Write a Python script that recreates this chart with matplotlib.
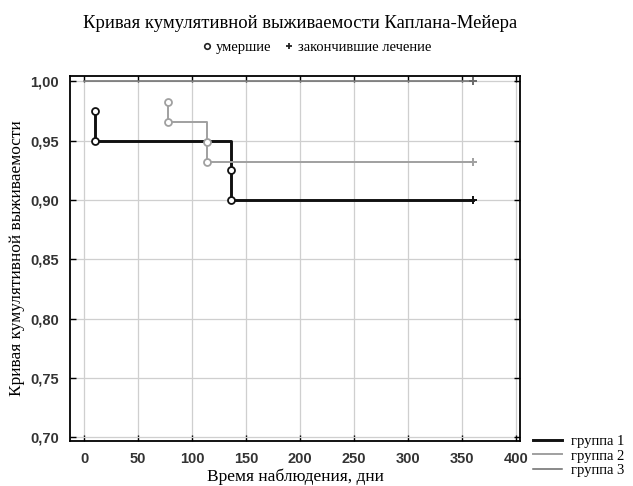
import numpy as np
import matplotlib.pyplot as plt
from matplotlib.lines import Line2D
from matplotlib.ticker import FuncFormatter, MultipleLocator

# data
g1_time = [10, 10, 136, 136]
g1_surv = [0.975, 0.95, 0.925, 0.90]
g2_time = [78, 78, 114, 114]
g2_surv = [0.983, 0.966, 0.949, 0.932]
g3_time = [0]
g3_surv = [1.0]
end_time = 360
groups = ["группа 1", "группа 2", "группа 3"]

colors = ["#111111", "#a0a0a0", "#6a6a6a"]
widths = [2.1, 1.4, 1.1]

serif = ["Liberation Serif", "DejaVu Serif"]
sans = ["Liberation Sans", "DejaVu Sans"]

fig = plt.figure(figsize=(6.33, 4.86), dpi=100)
ax = fig.add_axes([70 / 633, 1 - 441 / 486, 450 / 633, 365 / 486])

series = [(g1_time, g1_surv), (g2_time, g2_surv), (g3_time, g3_surv)]
for (t, s), c, w in zip(series, colors, widths):
    x = list(t) + [end_time]
    y = list(s) + [s[-1]]
    ax.plot(x, y, drawstyle="steps-post", color=c, lw=w, zorder=3)
    if len(t) > 1:
        ax.plot(t, s, "o", ms=5, mfc="white", mec=c, mew=1.3, zorder=4)
    ax.plot([end_time], [s[-1]], "+", ms=6, color=c, mew=1.4, zorder=4)

ax.set_xlim(-13, 404)
ax.set_ylim(0.697, 1.0045)
ax.xaxis.set_major_locator(MultipleLocator(50))
ax.yaxis.set_major_locator(MultipleLocator(0.05))
ax.yaxis.set_major_formatter(FuncFormatter(lambda v, p: f"{v:.2f}".replace(".", ",")))
ax.grid(True, color="#cfcfcf", lw=0.9)
ax.set_axisbelow(True)
ax.tick_params(direction="in", top=True, right=True, length=4, width=1,
               labelsize=10.5, pad=8)
for lab in ax.get_xticklabels() + ax.get_yticklabels():
    lab.set_family(sans)
    lab.set_weight("bold")
    lab.set_color("#333333")
for sp in ax.spines.values():
    sp.set_linewidth(1.3)

ax.set_xlabel("Время наблюдения, дни", family=serif, fontsize=12.5, labelpad=2)
ax.set_ylabel("Кривая кумулятивной выживаемости", family=serif, fontsize=12.5, labelpad=4)

fig.text(0.474, 1 - 23 / 486, "Кривая кумулятивной выживаемости Каплана-Мейера",
         family=serif, fontsize=13.4, ha="center", va="center")

top_handles = [Line2D([], [], ls="", marker="o", ms=4, mfc="white", mec="#222222", mew=1.2),
               Line2D([], [], ls="", marker="+", ms=5, color="#222222", mew=1.3)]
fig.legend(top_handles, ["умершие", "закончившие лечение"], loc="center",
           bbox_to_anchor=(0.497, 1 - 47 / 486), ncol=2, frameon=False,
           prop={"family": serif, "size": 10.5}, handletextpad=0.0,
           columnspacing=0.6, handlelength=1.2)

grp_handles = [Line2D([], [], color=c, lw=w) for c, w in zip(colors, widths)]
fig.legend(grp_handles, groups, loc="lower right", bbox_to_anchor=(1.0, 0.0),
           frameon=False, prop={"family": serif, "size": 10.5},
           handlelength=2.0, handletextpad=0.6, labelspacing=0.1,
           borderaxespad=0.2)

fig.savefig("out.png", dpi=100)
